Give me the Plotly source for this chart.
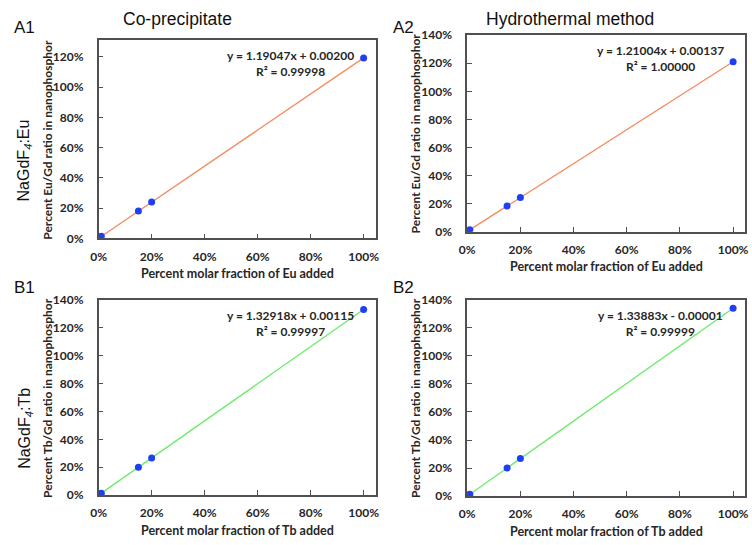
import plotly.graph_objects as go

W, H = 752, 545

# ---- data ----
x_eu = [0.0, 0.005, 0.01, 0.15, 0.20, 1.00]
y_a1 = [0.001, 0.008, 0.014, 0.181, 0.241, 1.192]
y_a2 = [0.000, 0.007, 0.014, 0.183, 0.244, 1.211]
x_tb = [0.005, 0.01, 0.15, 0.20, 1.00]
y_b1 = [0.008, 0.014, 0.200, 0.267, 1.330]
y_b2 = [0.008, 0.014, 0.201, 0.268, 1.339]

slopes = [1.19047, 1.21004, 1.32918, 1.33883]
intercepts = [0.00200, 0.00137, 0.00115, -0.00001]
eq_texts = ["y = 1.19047x + 0.00200<br>R² = 0.99998",
            "y = 1.21004x + 0.00137<br>R² = 1.00000",
            "y = 1.32918x + 0.00115<br>R² = 0.99997",
            "y = 1.33883x - 0.00001<br>R² = 0.99999"]
x_titles = ["Percent molar fraction of Eu added", "Percent molar fraction of Eu added",
            "Percent molar fraction of Tb added", "Percent molar fraction of Tb added"]
y_titles = ["Percent Eu/Gd ratio in nanophosphor", "Percent Eu/Gd ratio in nanophosphor",
            "Percent Tb/Gd ratio in nanophosphor", "Percent Tb/Gd ratio in nanophosphor"]
y_max = [1.31, 1.40, 1.40, 1.40]
x_tickvals = [0, 0.2, 0.4, 0.6, 0.8, 1.0]

panels = [(x_eu, y_a1), (x_eu, y_a2), (x_tb, y_b1), (x_tb, y_b2)]
line_colors = ["#F58A5E", "#F58A5E", "#6BEB6B", "#6BEB6B"]

# pixel boxes: (left, right, top, bottom)
boxes = [(92, 373, 33, 237), (466, 748, 28, 230), (92, 373, 300, 501), (466, 748, 300, 502)]

def fx(px):
    return px / W

def fy(py):
    return 1 - py / H

fig = go.Figure()
LBL = "Lato"

for i, ((xs, ys), (l, r, t, b)) in enumerate(zip(panels, boxes)):
    n = "" if i == 0 else str(i + 1)
    xa, ya = "x" + n, "y" + n
    xmin, xmax = min(xs), max(xs)
    fig.add_trace(go.Scatter(
        x=[xmin, xmax], y=[slopes[i] * xmin + intercepts[i], slopes[i] * xmax + intercepts[i]],
        mode="lines", line=dict(color=line_colors[i], width=1.3),
        xaxis=xa, yaxis=ya, showlegend=False, hoverinfo="skip"))
    fig.add_trace(go.Scatter(
        x=xs, y=ys, mode="markers", marker=dict(color="#1F3FF5", size=7),
        xaxis=xa, yaxis=ya, showlegend=False))
    axis_common = dict(showline=True, mirror=True, linecolor="#505050", linewidth=1.5,
                       ticks="inside", ticklen=5, tickcolor="#505050", tickwidth=1.2,
                       showgrid=False, zeroline=False,
                       tickfont=dict(family=LBL, size=12, color="#262626", weight="bold"))
    fig.layout["xaxis" + n] = dict(
        domain=[fx(l), fx(r)], anchor=ya, range=[0, 1.045],
        tickvals=x_tickvals, tickformat=".0%", ticklabelstandoff=6, **axis_common)
    fig.layout["yaxis" + n] = dict(
        domain=[fy(b), fy(t)], anchor=xa, range=[0, y_max[i]],
        dtick=0.2, tickformat=".0%", ticklabelstandoff=11, **axis_common)
    # equation
    fig.add_annotation(text=eq_texts[i], xref="paper", yref="paper",
                       x=fx(r - 86), y=fy(t + 24), xanchor="center", yanchor="middle",
                       showarrow=False, align="center",
                       font=dict(family=LBL, size=12, color="#262626", weight="bold"))
    # axis titles
    fig.add_annotation(text=x_titles[i], xref="paper", yref="paper",
                       x=fx((l + r) / 2), y=fy(b + 36), xanchor="center", yanchor="middle",
                       showarrow=False,
                       font=dict(family=LBL, size=12.5, color="#262626", weight="bold"))
    fig.add_annotation(text=y_titles[i], xref="paper", yref="paper",
                       x=fx(l - 52), y=fy((t + b) / 2), xanchor="center", yanchor="middle",
                       textangle=-90, showarrow=False,
                       font=dict(family=LBL, size=12, color="#262626", weight="bold"))

# panel letters and column titles
texts = [("A1", 17, 20, 17), ("A2", 401, 20, 17), ("B1", 17, 287, 17), ("B2", 401, 287, 17),
         ("Co-precipitate", 172, 11, 17.5), ("Hydrothermal method", 570, 11, 17.5)]
for txt, px, py, fs in texts:
    fig.add_annotation(text=txt, xref="paper", yref="paper", x=fx(px), y=fy(py),
                       xanchor="center", yanchor="middle", showarrow=False,
                       font=dict(family="Liberation Sans", size=fs, color="#111111"))

for txt, py in [("NaGdF<sub><i>4</i></sub>:Eu", 157), ("NaGdF<sub><i>4</i></sub>:Tb", 432)]:
    fig.add_annotation(text=txt, xref="paper", yref="paper", x=fx(17), y=fy(py),
                       xanchor="center", yanchor="middle", textangle=-90, showarrow=False,
                       font=dict(family="Liberation Sans", size=16, color="#111111"))

fig.update_layout(width=W, height=H, margin=dict(l=0, r=0, t=0, b=0),
                  paper_bgcolor="white", plot_bgcolor="white")
fig.write_html("out.html", config={"displayModeBar": False},
               post_script="document.body.style.margin='0px';")
